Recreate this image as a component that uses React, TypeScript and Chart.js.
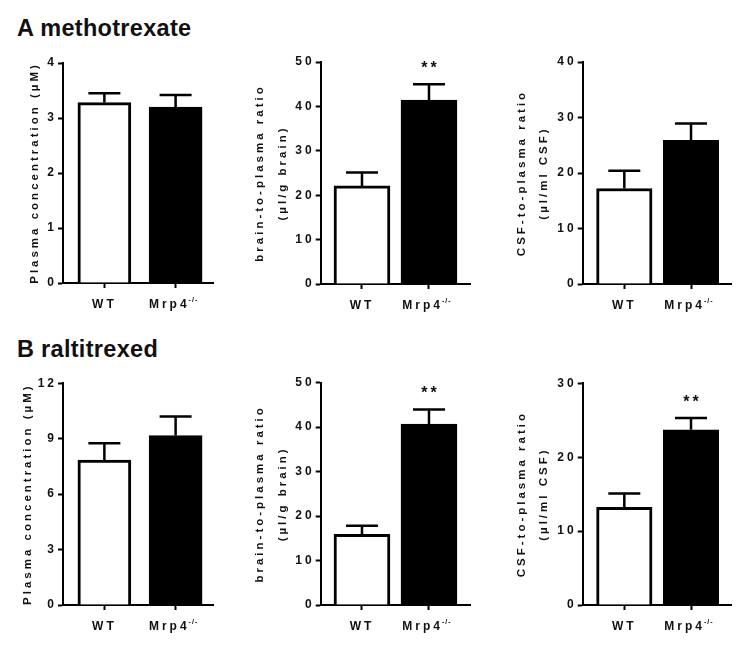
import React, { useEffect, useRef } from 'react';
import { Chart, registerables } from 'chart.js';

Chart.register(...registerables);

// ---------- data ----------
const categories = ['WT', 'Mrp4'];

const mtxPlasma = [3.28, 3.2];
const mtxPlasmaSem = [0.17, 0.22];
const mtxBrain = [22.1, 41.4];
const mtxBrainSem = [3.0, 3.6];
const mtxCsf = [17.2, 25.9];
const mtxCsfSem = [3.2, 3.0];

const rtxPlasma = [7.85, 9.17];
const rtxPlasmaSem = [0.9, 1.03];
const rtxBrain = [15.9, 40.7];
const rtxBrainSem = [1.9, 3.3];
const rtxCsf = [13.2, 23.7];
const rtxCsfSem = [1.9, 1.6];

const sigNone = ['', ''];
const sigStars = ['', '**'];

const plasmaTitle = ['Plasma concentration (\u00b5M)'];
const brainTitle = ['brain-to-plasma ratio', '(\u00b5l/g brain)'];
const csfTitle = ['CSF-to-plasma ratio', '(\u00b5l/ml CSF)'];

const plasmaTicksA = { max: 4, step: 1 };
const brainTicks = { max: 50, step: 10 };
const csfTicksA = { max: 40, step: 10 };
const plasmaTicksB = { max: 12, step: 3 };
const csfTicksB = { max: 30, step: 10 };

const FAMILY = '"Liberation Sans", Arial, Helvetica, sans-serif';
const SPACING = '3px';
const X_PAD = 9;
const TICK_SIZE = 12;
const TITLE_SIZE = 11.5;

type Panel = {
  id: string;
  left: number; top: number; width: number; height: number;
  yWidth: number; padTop: number; padRight: number; xHeight: number;
  titlePad: number; titleLH: number;
  xMin: number; xMax: number; barThickness: number;
  values: number[]; sem: number[]; sig: string[];
  title: string[]; yMax: number; yStep: number;
};

const panels: Panel[] = [
  { id: 'a1', left: 0, top: 45, width: 250, height: 275, yWidth: 63, padTop: 18, padRight: 37, xHeight: 37,
    titlePad: 28, titleLH: 13.8, xMin: -0.581, xMax: 1.525, barThickness: 53,
    values: mtxPlasma, sem: mtxPlasmaSem, sig: sigNone, title: plasmaTitle, yMax: plasmaTicksA.max, yStep: plasmaTicksA.step },
  { id: 'a2', left: 240, top: 45, width: 250, height: 275, yWidth: 80.7, padTop: 17, padRight: 20, xHeight: 36,
    titlePad: 8.5, titleLH: 23, xMin: -0.616, xMax: 1.612, barThickness: 56,
    values: mtxBrain, sem: mtxBrainSem, sig: sigStars, title: brainTitle, yMax: brainTicks.max, yStep: brainTicks.step },
  { id: 'a3', left: 490, top: 45, width: 260, height: 275, yWidth: 92.7, padTop: 17, padRight: 18.3, xHeight: 36,
    titlePad: 21, titleLH: 22, xMin: -0.624, xMax: 1.61, barThickness: 55.5,
    values: mtxCsf, sem: mtxCsfSem, sig: sigNone, title: csfTitle, yMax: csfTicksA.max, yStep: csfTicksA.step },
  { id: 'b1', left: 0, top: 365, width: 250, height: 282, yWidth: 63, padTop: 18.3, padRight: 37, xHeight: 42,
    titlePad: 21, titleLH: 13.8, xMin: -0.581, xMax: 1.525, barThickness: 53,
    values: rtxPlasma, sem: rtxPlasmaSem, sig: sigNone, title: plasmaTitle, yMax: plasmaTicksB.max, yStep: plasmaTicksB.step },
  { id: 'b2', left: 240, top: 365, width: 250, height: 282, yWidth: 80.7, padTop: 17.7, padRight: 20, xHeight: 42,
    titlePad: 8.5, titleLH: 23, xMin: -0.616, xMax: 1.612, barThickness: 56,
    values: rtxBrain, sem: rtxBrainSem, sig: sigStars, title: brainTitle, yMax: brainTicks.max, yStep: brainTicks.step },
  { id: 'b3', left: 490, top: 365, width: 260, height: 282, yWidth: 92.7, padTop: 18.3, padRight: 18.3, xHeight: 42,
    titlePad: 21, titleLH: 22, xMin: -0.624, xMax: 1.61, barThickness: 55.5,
    values: rtxCsf, sem: rtxCsfSem, sig: sigStars, title: csfTitle, yMax: csfTicksB.max, yStep: csfTicksB.step },
];

function tickLabel(v: number): string {
  const name = categories[v] ?? '';
  return v === 1 ? name + '  ' : name;
}

function overlayPlugin(p: Panel) {
  return {
    id: 'overlay_' + p.id,
    beforeLayout(chart: any) { chart.ctx.letterSpacing = SPACING; },
    beforeDraw(chart: any) { chart.ctx.letterSpacing = SPACING; },
    afterDatasetsDraw(chart: any) {
      const ctx = chart.ctx;
      const xs = chart.scales.x;
      const ys = chart.scales.y;
      ctx.save();
      ctx.strokeStyle = '#000';
      ctx.lineWidth = 2.5;
      p.values.forEach((v, i) => {
        const x = xs.getPixelForValue(i);
        const y0 = ys.getPixelForValue(v);
        const y1 = ys.getPixelForValue(v + p.sem[i]);
        ctx.beginPath();
        ctx.moveTo(x, y0);
        ctx.lineTo(x, y1);
        ctx.moveTo(x - 16, y1);
        ctx.lineTo(x + 16, y1);
        ctx.stroke();
        if (p.sig[i]) {
          ctx.letterSpacing = '3px';
          ctx.font = 'bold 16px ' + FAMILY;
          ctx.textAlign = 'center';
          ctx.textBaseline = 'alphabetic';
          ctx.fillStyle = '#111';
          ctx.fillText(p.sig[i], x + 1.5, y1 - 20 + 9);
        }
      });
      ctx.restore();
    },
    afterDraw(chart: any) {
      const ctx = chart.ctx;
      const xs = chart.scales.x;
      ctx.save();
      ctx.letterSpacing = SPACING;
      ctx.font = 'bold ' + TICK_SIZE + 'px ' + FAMILY;
      const full = ctx.measureText(tickLabel(1)).width;
      const base = ctx.measureText(categories[1]).width;
      const cx = xs.getPixelForValue(1);
      const left = cx - full / 2;
      const cy = xs.top + 5 + X_PAD + (TICK_SIZE * 1.2) / 2;
      ctx.font = 'bold 7px ' + FAMILY;
      ctx.letterSpacing = '1px';
      ctx.textAlign = 'left';
      ctx.textBaseline = 'middle';
      ctx.fillStyle = '#111';
      ctx.fillText('-/-', left + base - 1, cy - 4.5);
      ctx.restore();
    },
  };
}

function buildChart(canvas: HTMLCanvasElement, p: Panel) {
  const tickFont = { family: FAMILY, size: TICK_SIZE, weight: 'bold' as const };
  return new Chart(canvas, {
    type: 'bar',
    data: {
      datasets: [
        {
          data: p.values.map((v, i) => ({ x: i, y: v })),
          backgroundColor: ['#ffffff', '#000000'],
          borderColor: '#000000',
          borderWidth: 3,
          barThickness: p.barThickness,
        },
      ],
    },
    options: {
      responsive: false,
      animation: false,
      devicePixelRatio: 1,
      layout: { padding: { left: 0, top: p.padTop, right: p.padRight, bottom: 0 } },
      plugins: { legend: { display: false }, tooltip: { enabled: false } },
      scales: {
        x: {
          type: 'linear',
          offset: false,
          min: p.xMin,
          max: p.xMax,
          afterBuildTicks: (scale: any) => { scale.ticks = [{ value: 0 }, { value: 1 }]; },
          afterFit: (scale: any) => { scale.height = p.xHeight; },
          ticks: {
            callback: (v: any) => tickLabel(Number(v)),
            font: tickFont,
            color: '#111',
            padding: X_PAD,
            maxRotation: 0,
            autoSkip: false,
          },
          grid: { display: true, offset: false, drawOnChartArea: false, drawTicks: true, tickLength: 5, tickWidth: 2, tickColor: '#000' },
          border: { display: true, color: '#000', width: 2 },
        },
        y: {
          type: 'linear',
          min: 0,
          max: p.yMax,
          afterFit: (scale: any) => { scale.width = p.yWidth; },
          ticks: { stepSize: p.yStep, font: tickFont, color: '#111', padding: 1 },
          grid: { display: true, drawOnChartArea: false, drawTicks: true, tickLength: 5, tickWidth: 2, tickColor: '#000' },
          border: { display: true, color: '#000', width: 2 },
          title: {
            display: true,
            text: p.title,
            color: '#111',
            font: { family: FAMILY, size: TITLE_SIZE, weight: 'bold', lineHeight: p.titleLH / TITLE_SIZE },
            padding: { top: p.titlePad, bottom: 0 },
          },
        },
      },
    },
    plugins: [overlayPlugin(p)],
  } as any);
}

function PanelCanvas({ p }: { p: Panel }) {
  const ref = useRef<HTMLCanvasElement>(null);
  useEffect(() => {
    if (!ref.current) return;
    const chart = buildChart(ref.current, p);
    return () => chart.destroy();
  }, [p]);
  return (
    <canvas
      ref={ref}
      width={p.width}
      height={p.height}
      style={{ position: 'absolute', left: p.left, top: p.top, width: p.width, height: p.height }}
    />
  );
}

const headingStyle: React.CSSProperties = {
  position: 'absolute',
  left: 17,
  fontFamily: FAMILY,
  fontWeight: 'bold',
  fontSize: 23.5,
  lineHeight: '23.5px',
  letterSpacing: '0.3px',
  color: '#111',
  whiteSpace: 'nowrap',
};

export default function App() {
  return (
    <div style={{ position: 'absolute', left: 0, top: 0, width: 750, height: 647, background: '#fff', overflow: 'hidden' }}>
      <div style={{ ...headingStyle, top: 17.2 }}>A methotrexate</div>
      <div style={{ ...headingStyle, top: 337.7 }}>B raltitrexed</div>
      {panels.map((p) => (
        <PanelCanvas key={p.id} p={p} />
      ))}
    </div>
  );
}
